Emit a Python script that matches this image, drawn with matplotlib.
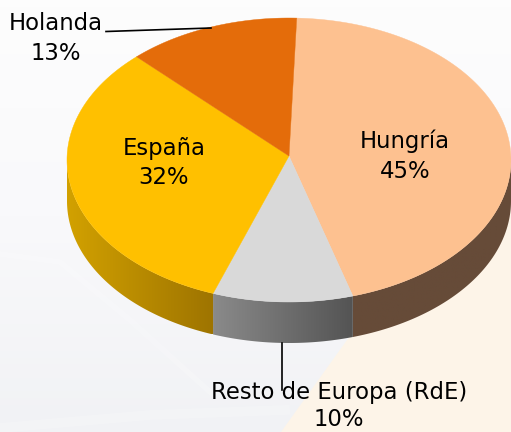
import numpy as np
import matplotlib
matplotlib.use("Agg")
import matplotlib.pyplot as plt
from matplotlib.patches import Polygon, PathPatch
from matplotlib.path import Path
from matplotlib.colors import LinearSegmentedColormap

categories = ["Hungría", "Resto de Europa (RdE)", "España", "Holanda"]
shares = [45, 10, 32, 13]
# slice sizes as measured on the picture, the tilt makes them differ a bit from the labels
drawn_shares = [44.8, 10.2, 32.4, 12.6]
top_colors = ["#fdc190", "#d9d9d9", "#ffc000", "#e46c0a"]
side_colors = [("#664b38", "#664b38"), ("#8a8a8a", "#545454"), ("#d2a100", "#9e7400"), ("#e46c0a", "#e46c0a")]

W, H = 511, 432
CX, CY, RX, RY = 289, 160, 222, 142
APEX_Y = 156
DEPTH = 41
START = 88

fig = plt.figure(figsize=(W / 100, H / 100), dpi=100)

ax = fig.add_axes([0, 0, 1, 1])
ax.axis("off")

# pale backdrop, greyer toward the bottom
bg = np.linspace(0, 1, 64).reshape(-1, 1)
bg_cmap = LinearSegmentedColormap.from_list("bg", ["#fdfdfd", "#f9f9fb", "#f1f2f5"])
ax.imshow(bg, cmap=bg_cmap, extent=(0, W, H, 0), aspect="auto", zorder=0)
ax.add_patch(Polygon([(511, 170), (511, 432), (281, 432), (347, 340)], closed=True,
                     facecolor="#fdf4e8", edgecolor="none", zorder=1))
# faint light streaks in the backdrop
ax.plot([0, 60, 130, 210], [254, 262, 320, 392], color="white", lw=4, alpha=0.18, zorder=1)
ax.plot([0, 150, 285], [428, 415, 410], color="white", lw=7, alpha=0.18, zorder=1)


def rim_xy(t):
    return CX + RX * np.cos(t), CY - RY * np.sin(t)


edges = START - np.cumsum([0] + drawn_shares) * 3.6

# rim segments only where the pie front shows (below the ellipse centre)
for i in range(len(drawn_shares)):
    t = np.radians(np.linspace(edges[i], edges[i + 1], 160))
    t = t[np.sin(t) <= 0]
    if len(t) < 2:
        continue
    x, y = rim_xy(t)
    verts = np.concatenate([np.column_stack([x, y]), np.column_stack([x[::-1], y[::-1] + DEPTH])])
    clip = PathPatch(Path(np.vstack([verts, verts[0]]), closed=True), facecolor="none",
                     edgecolor="none", transform=ax.transData)
    ax.add_patch(clip)
    cmap = LinearSegmentedColormap.from_list(f"side{i}", side_colors[i])
    grad = np.linspace(0, 1, 128).reshape(1, -1)
    im = ax.imshow(grad, cmap=cmap, extent=(x.min(), x.max(), y.max() + DEPTH, y.min()),
                   aspect="auto", zorder=2)
    im.set_clip_path(clip)

# top face, slices meet a little above the ellipse centre
for i in range(len(drawn_shares)):
    t = np.radians(np.linspace(edges[i], edges[i + 1], 200))
    x, y = rim_xy(t)
    pts = np.vstack([[CX, APEX_Y], np.column_stack([x, y])])
    ax.add_patch(Polygon(pts, closed=True, facecolor=top_colors[i], edgecolor=top_colors[i],
                         linewidth=0.3, zorder=3))

ax.set_xlim(0, W)
ax.set_ylim(H, 0)

FS = 16.4
FONT = "DejaVu Sans"
pct = [f"{s}%" for s in shares]
ax.plot([106, 211], [31.5, 28], color="black", lw=1.2, zorder=4)
ax.plot([281.5, 281.5], [343, 390], color="black", lw=1.2, zorder=4)

label_x = [405, 339, 164, 56]
label_y = [141, 392, 148, 23]
pct_y = [172, 420, 177, 54]
for i, name in enumerate(categories):
    ax.text(label_x[i], label_y[i], name, ha="center", va="center", fontsize=FS, family=FONT, zorder=5)
    ax.text(label_x[i], pct_y[i], pct[i], ha="center", va="center", fontsize=FS, family=FONT, zorder=5)

fig.savefig("out.png", dpi=100)
